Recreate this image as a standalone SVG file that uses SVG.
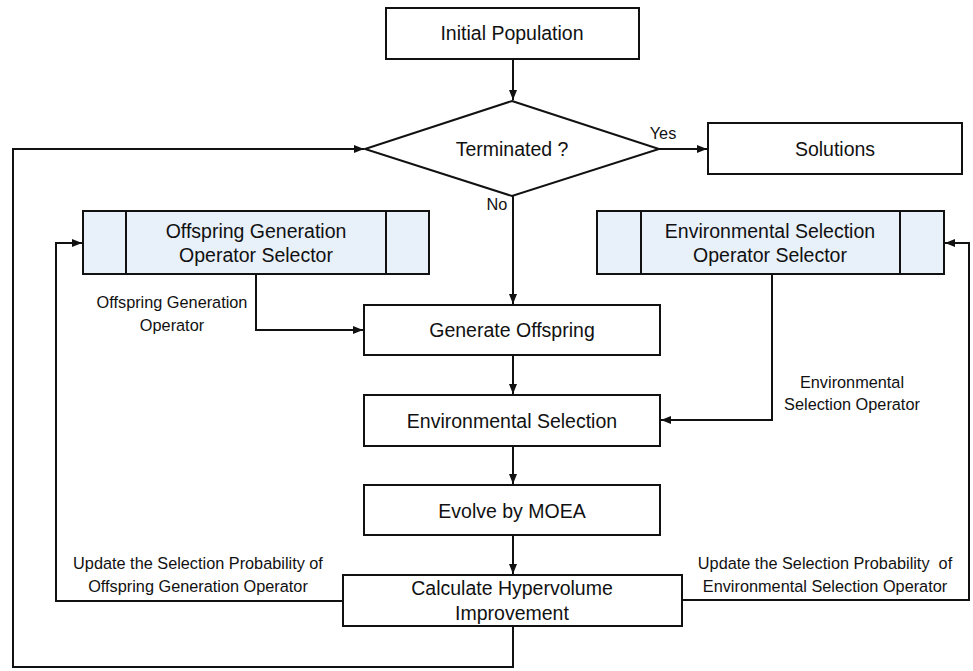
<svg xmlns="http://www.w3.org/2000/svg" width="973" height="671" viewBox="0 0 973 671">
<defs>
<marker id="arr" markerUnits="userSpaceOnUse" markerWidth="10" markerHeight="8" refX="10" refY="4" orient="auto">
<path d="M0,0 L10,4 L0,8 z" fill="#111"/>
</marker>
<style>
.box{fill:#fff;stroke:#111;stroke-width:2}
.sel{fill:#E8F0FA;stroke:#111;stroke-width:2}
.ln{fill:none;stroke:#111;stroke-width:2}
.t{font-family:"Liberation Sans",Arial,sans-serif;font-size:19.5px;fill:#111;text-anchor:middle}
.s{font-family:"Liberation Sans",Arial,sans-serif;font-size:16.3px;fill:#111;text-anchor:middle}
</style>
</defs>
<rect width="973" height="671" fill="#fff"/>
<g id="connectors">
<path class="ln" d="M513,59 V100" marker-end="url(#arr)"/>
<path class="ln" d="M513,196 V304" marker-end="url(#arr)"/>
<path class="ln" d="M513,355 V394" marker-end="url(#arr)"/>
<path class="ln" d="M513,446 V484" marker-end="url(#arr)"/>
<path class="ln" d="M513,535 V574" marker-end="url(#arr)"/>
<path class="ln" d="M659,149 H707" marker-end="url(#arr)"/>
<path class="ln" d="M256,274 V330 H363" marker-end="url(#arr)"/>
<path class="ln" d="M772,274 V420 H661" marker-end="url(#arr)"/>
<path class="ln" d="M343,601 H56 V243 H82" marker-end="url(#arr)"/>
<path class="ln" d="M682,600 H969 V243 H945" marker-end="url(#arr)"/>
<path class="ln" d="M513,626 V667 H13 V149 H364" marker-end="url(#arr)"/>
<text class="s" x="663" y="139">Yes</text>
<text class="s" x="497" y="210">No</text>
<text class="s" x="172" y="308">Offspring Generation</text>
<text class="s" x="172" y="331">Operator</text>
<text class="s" x="852" y="388">Environmental</text>
<text class="s" x="852" y="410">Selection Operator</text>
<text class="s" x="198" y="569">Update the Selection Probability of</text>
<text class="s" x="198" y="592">Offspring Generation Operator</text>
<text class="s" x="825" y="569" xml:space="preserve">Update the Selection Probability  of</text>
<text class="s" x="825" y="592">Environmental Selection Operator</text>
</g>
<g id="initial">
<rect class="box" x="386" y="8" width="253" height="51"/>
<text class="t" x="512" y="40">Initial Population</text>
</g>
<g id="terminated">
<polygon class="box" points="512,101 659,149 512,196 365,149"/>
<text class="t" x="512" y="156">Terminated ?</text>
</g>
<g id="solutions">
<rect class="box" x="708" y="123" width="254" height="51"/>
<text class="t" x="835" y="156">Solutions</text>
</g>
<g id="ogos">
<rect class="sel" x="83" y="211" width="346" height="63"/>
<line class="ln" x1="126" y1="211" x2="126" y2="274"/>
<line class="ln" x1="386" y1="211" x2="386" y2="274"/>
<text class="t" x="256" y="238">Offspring Generation</text>
<text class="t" x="256" y="262">Operator Selector</text>
</g>
<g id="esos">
<rect class="sel" x="597" y="211" width="347" height="63"/>
<line class="ln" x1="641" y1="211" x2="641" y2="274"/>
<line class="ln" x1="900" y1="211" x2="900" y2="274"/>
<text class="t" x="770" y="238">Environmental Selection</text>
<text class="t" x="770" y="262">Operator Selector</text>
</g>
<g id="generate">
<rect class="box" x="364" y="305" width="296" height="50"/>
<text class="t" x="512" y="337">Generate Offspring</text>
</g>
<g id="envsel">
<rect class="box" x="364" y="395" width="296" height="51"/>
<text class="t" x="512" y="428">Environmental Selection</text>
</g>
<g id="evolve">
<rect class="box" x="364" y="485" width="296" height="50"/>
<text class="t" x="512" y="518">Evolve by MOEA</text>
</g>
<g id="calc">
<rect class="box" x="343" y="575" width="339" height="51"/>
<text class="t" x="512" y="595">Calculate Hypervolume</text>
<text class="t" x="512" y="620">Improvement</text>
</g>
</svg>
